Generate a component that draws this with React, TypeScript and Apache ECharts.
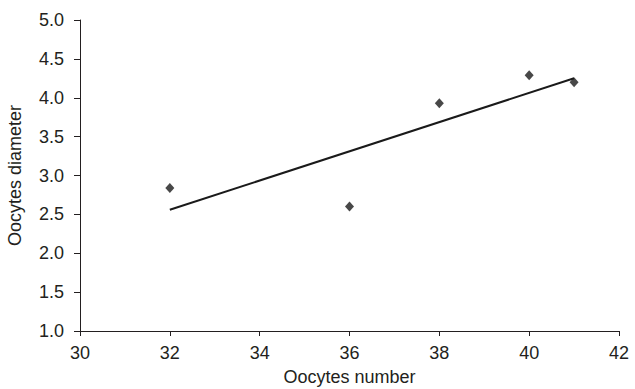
import React, { useEffect, useRef } from "react";
import * as echarts from "echarts";

const oocytesNumber = [32, 36, 38, 40, 41];
const oocytesDiameter = [2.84, 2.6, 3.93, 4.29, 4.2];
const trendX = [32, 41];
const trendY = [2.56, 4.25];

export default function App() {
  const ref = useRef<HTMLDivElement>(null);
  useEffect(() => {
    if (!ref.current) return;
    const chart = echarts.init(ref.current, undefined, { renderer: "svg" });
    const font = "Liberation Sans, Arial, sans-serif";
    const txt = "#231f20";
    chart.setOption({
      animation: false,
      backgroundColor: "#ffffff",
      grid: {
        left: 80,
        right: 16,
        top: 20,
        bottom: 58,
        containLabel: false,
        outerBoundsMode: "none",
      },
      xAxis: {
        type: "value",
        min: 30,
        max: 42,
        interval: 2,
        name: "Oocytes number",
        nameLocation: "middle",
        nameGap: 37,
        nameTextStyle: { fontFamily: font, fontSize: 18, color: txt },
        axisLine: { show: true, onZero: false, lineStyle: { color: "#231f20", width: 1 } },
        axisTick: { show: true, inside: false, length: 5, lineStyle: { color: "#231f20" } },
        axisLabel: { fontFamily: font, fontSize: 18, color: txt, margin: 13 },
        splitLine: { show: false },
      },
      yAxis: {
        type: "value",
        min: 1,
        max: 5,
        interval: 0.5,
        name: "Oocytes diameter",
        nameLocation: "middle",
        nameGap: 56,
        nameRotate: 90,
        nameTextStyle: { fontFamily: font, fontSize: 18, color: txt },
        axisLine: { show: true, onZero: false, lineStyle: { color: "#231f20", width: 1 } },
        axisTick: { show: true, inside: false, length: 6, lineStyle: { color: "#231f20" } },
        axisLabel: {
          fontFamily: font,
          fontSize: 18,
          color: txt,
          margin: 16,
          formatter: (v: number) => v.toFixed(1),
        },
        splitLine: { show: false },
      },
      series: [
        {
          type: "line",
          data: trendX.map((x, i) => [x, trendY[i]]),
          symbol: "none",
          lineStyle: { color: "#1a1a1a", width: 2 },
          z: 2,
        },
        {
          type: "scatter",
          data: oocytesNumber.map((x, i) => [x, oocytesDiameter[i]]),
          symbol: "diamond",
          symbolSize: [9, 10],
          itemStyle: { color: "#1a1a1a" },
          z: 3,
        },
      ],
    });
    return () => chart.dispose();
  }, []);
  return <div ref={ref} style={{ width: 635, height: 389, position: "absolute", left: 0, top: 0 }} />;
}
